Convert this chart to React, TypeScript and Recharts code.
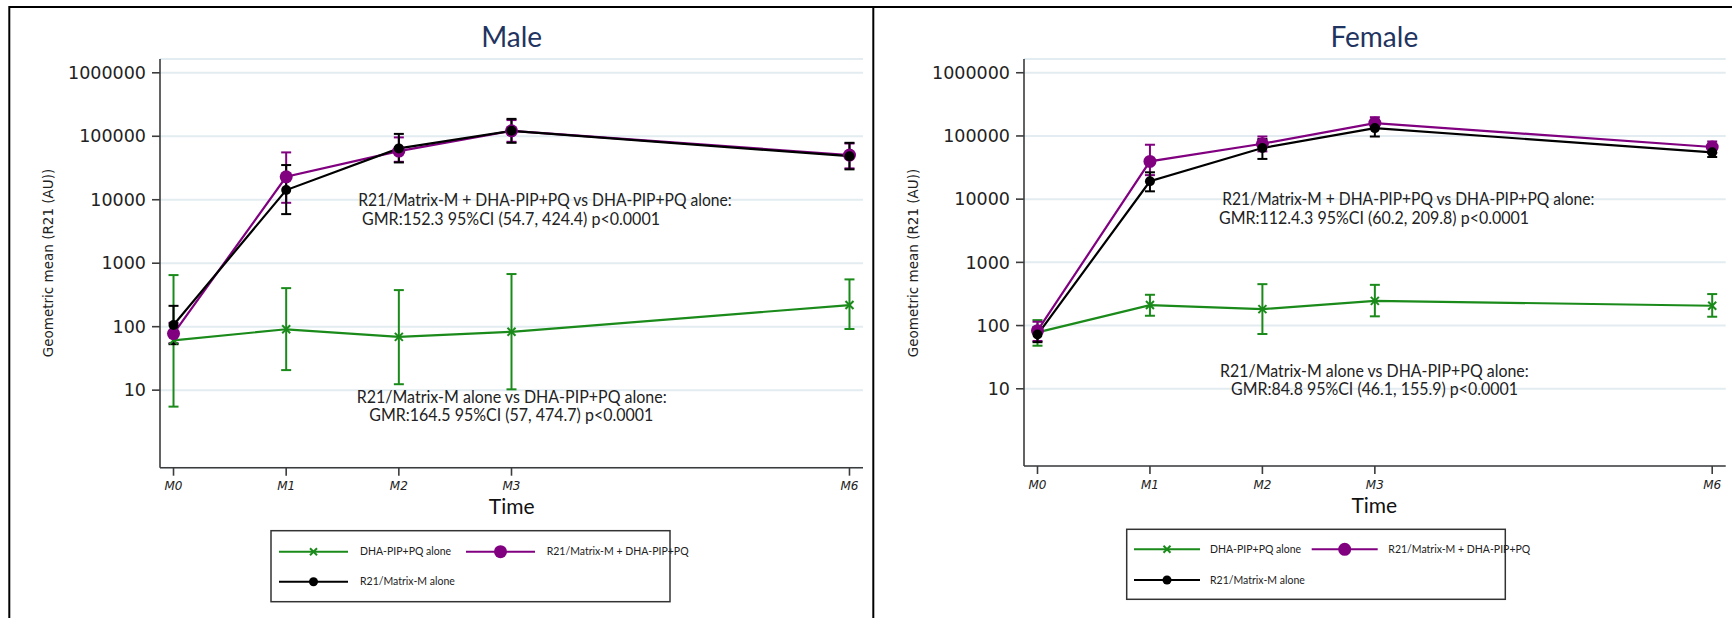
import React from "react";
import { CartesianGrid, ErrorBar, Line, LineChart, XAxis, YAxis } from "recharts";

// time points (months) and their labels
const months = [0, 1, 2, 3, 6];
const monthLabels = ["M0", "M1", "M2", "M3", "M6"];
const yTicks = [10, 100, 1000, 10000, 100000, 1000000];

// Male: geometric means with 95% CI
const maleDha = [61, 91, 69, 83, 219];
const maleDhaLow = [5.5, 20.7, 12.4, 10.3, 92];
const maleDhaHigh = [650, 405, 377, 675, 556];
const maleCombo = [78, 23000, 58400, 122000, 50500];
const maleComboLow = [55, 8950, 39600, 81800, 31200];
const maleComboHigh = [115, 55700, 96000, 180000, 77000];
const maleR21 = [106, 14200, 64400, 122000, 48500];
const maleR21Low = [53, 5940, 38700, 78900, 30100];
const maleR21High = [213, 35200, 109000, 188000, 78900];

// Female
const femaleDha = [78, 211, 182, 246, 206];
const femaleDhaLow = [48, 143, 73.6, 140, 138];
const femaleDhaHigh = [122, 307, 452, 441, 315];
const femaleCombo = [83, 39600, 75300, 160000, 66800];
const femaleComboLow = [57, 24000, 57000, 133000, 53700];
const femaleComboHigh = [115, 72600, 98000, 198000, 81800];
const femaleR21 = [72, 19200, 64400, 133000, 55000];
const femaleR21Low = [54.6, 13300, 43300, 98000, 46400];
const femaleR21High = [94, 26600, 89300, 180000, 70000];

const legendNames = ["DHA-PIP+PQ alone", "R21/Matrix-M + DHA-PIP+PQ", "R21/Matrix-M alone"];

const GREEN = "#1a8a1a";
const PURPLE = "#800080";
const BLACK = "#000000";
const AXIS = "#3c3c3c";
const GRID = "#e3ecf0";
const TEXT_FONT = "Lato, 'Open Sans', sans-serif";
const TICK_FONT = "'DejaVu Sans', Verdana, sans-serif";

type Row = {
  t: number;
  dha: number;
  dhaErr: [number, number];
  combo: number;
  comboErr: [number, number];
  r21: number;
  r21Err: [number, number];
};

function buildRows(
  dha: number[], dhaLo: number[], dhaHi: number[],
  combo: number[], comboLo: number[], comboHi: number[],
  r21: number[], r21Lo: number[], r21Hi: number[]
): Row[] {
  return months.map((t, i) => ({
    t,
    dha: dha[i],
    dhaErr: [dha[i] - dhaLo[i], dhaHi[i] - dha[i]],
    combo: combo[i],
    comboErr: [combo[i] - comboLo[i], comboHi[i] - combo[i]],
    r21: r21[i],
    r21Err: [r21[i] - r21Lo[i], r21Hi[i] - r21[i]],
  }));
}

const maleRows = buildRows(maleDha, maleDhaLow, maleDhaHigh, maleCombo, maleComboLow, maleComboHigh, maleR21, maleR21Low, maleR21High);
const femaleRows = buildRows(femaleDha, femaleDhaLow, femaleDhaHigh, femaleCombo, femaleComboLow, femaleComboHigh, femaleR21, femaleR21Low, femaleR21High);

const CrossDot = (props: any) => {
  const { cx, cy, index } = props;
  if (cx == null || cy == null) return <g key={`x${index}`} />;
  const s = 4;
  return (
    <g key={`x${index}`} stroke={GREEN} strokeWidth={2}>
      <line x1={cx - s} y1={cy - s} x2={cx + s} y2={cy + s} />
      <line x1={cx - s} y1={cy + s} x2={cx + s} y2={cy - s} />
    </g>
  );
};

const PurpleDot = (props: any) => {
  const { cx, cy, index } = props;
  if (cx == null || cy == null) return <g key={`p${index}`} />;
  return <circle key={`p${index}`} cx={cx} cy={cy} r={6.5} fill={PURPLE} />;
};

const BlackDot = (props: any) => {
  const { cx, cy, index } = props;
  if (cx == null || cy == null) return <g key={`b${index}`} />;
  return <circle key={`b${index}`} cx={cx} cy={cy} r={5} fill={BLACK} />;
};

type PanelProps = {
  rows: Row[];
  left: number;
  width: number;
  yAxisWidth: number;
  rightMargin: number;
  xAxisHeight: number;
};

function Panel({ rows, left, width, yAxisWidth, rightMargin, xAxisHeight }: PanelProps) {
  return (
    <div style={{ position: "absolute", left, top: 0 }}>
      <LineChart
        width={width}
        height={618}
        data={rows}
        margin={{ top: 59, right: rightMargin, bottom: 0, left: 0 }}
      >
        <CartesianGrid vertical={false} stroke={GRID} strokeWidth={2} />
        <XAxis
          type="number"
          dataKey="t"
          domain={[-0.12, 6.12]}
          ticks={months}
          tickFormatter={(v: number) => monthLabels[months.indexOf(v)]}
          height={xAxisHeight}
          stroke={AXIS}
          strokeWidth={1.6}
          tickSize={8}
          tickMargin={6}
          tick={{ fill: "#222", fontSize: 12, fontStyle: "italic", fontFamily: TICK_FONT }}
          allowDataOverflow
        />
        <YAxis
          scale="log"
          domain={[0.6, 1650000]}
          ticks={yTicks}
          tickFormatter={(v: number) => String(v)}
          width={yAxisWidth}
          stroke={AXIS}
          strokeWidth={1.6}
          tickSize={8}
          tickMargin={6}
          tick={{ fill: "#222", fontSize: 17.5, fontFamily: TICK_FONT }}
          allowDataOverflow
        />
        <Line
          dataKey="dha"
          stroke={GREEN}
          strokeWidth={2.2}
          dot={CrossDot}
          isAnimationActive={false}
        >
          <ErrorBar dataKey="dhaErr" width={5} stroke={GREEN} strokeWidth={2} direction="y" />
        </Line>
        <Line
          dataKey="combo"
          stroke={PURPLE}
          strokeWidth={2.2}
          dot={PurpleDot}
          isAnimationActive={false}
        >
          <ErrorBar dataKey="comboErr" width={5} stroke={PURPLE} strokeWidth={2} direction="y" />
        </Line>
        <Line
          dataKey="r21"
          stroke={BLACK}
          strokeWidth={2.2}
          dot={BlackDot}
          isAnimationActive={false}
        >
          <ErrorBar dataKey="r21Err" width={5} stroke={BLACK} strokeWidth={2} direction="y" />
        </Line>
      </LineChart>
    </div>
  );
}

type LegendSpec = {
  x: number; y: number; w: number; h: number;
  row1: number; row2: number;
  lineA: number; textA: number; lineB: number; textB: number; lineLen: number;
};

function LegendBox({ x, y, w, h, row1, row2, lineA, textA, lineB, textB, lineLen }: LegendSpec) {
  const ts = { fontFamily: TEXT_FONT, fontSize: 10.5, fill: "#222" } as const;
  return (
    <g>
      <rect x={x} y={y} width={w} height={h} fill="#fff" stroke="#333" strokeWidth={1.5} />
      <line x1={lineA} y1={row1} x2={lineA + lineLen} y2={row1} stroke={GREEN} strokeWidth={2} />
      <g stroke={GREEN} strokeWidth={2}>
        <line x1={lineA + lineLen / 2 - 3.5} y1={row1 - 3.5} x2={lineA + lineLen / 2 + 3.5} y2={row1 + 3.5} />
        <line x1={lineA + lineLen / 2 - 3.5} y1={row1 + 3.5} x2={lineA + lineLen / 2 + 3.5} y2={row1 - 3.5} />
      </g>
      <text x={textA} y={row1 + 3.5} {...ts}>{legendNames[0]}</text>
      <line x1={lineB} y1={row1} x2={lineB + lineLen} y2={row1} stroke={PURPLE} strokeWidth={2} />
      <circle cx={lineB + lineLen / 2} cy={row1} r={6.5} fill={PURPLE} />
      <text x={textB} y={row1 + 3.5} {...ts}>{legendNames[1]}</text>
      <line x1={lineA} y1={row2} x2={lineA + lineLen} y2={row2} stroke={BLACK} strokeWidth={2} />
      <circle cx={lineA + lineLen / 2} cy={row2} r={4.5} fill={BLACK} />
      <text x={textA} y={row2 + 3.5} {...ts}>{legendNames[2]}</text>
    </g>
  );
}

// annotation line: start x, baseline y, fitted width
function Note({ x, y, w, children }: { x: number; y: number; w: number; children: string }) {
  return (
    <text x={x} y={y} textLength={w} lengthAdjust="spacingAndGlyphs"
      fontFamily={TEXT_FONT} fontSize={16.5} fill="#222">
      {children}
    </text>
  );
}

export default function App() {
  const ylab = { fontFamily: TICK_FONT, fontSize: 13.5, fill: "#222" } as const;
  const title = { fontFamily: TEXT_FONT, fontSize: 28, fill: "#1f3460" } as const;
  const time = { fontFamily: TEXT_FONT, fontSize: 21, fill: "#111" } as const;
  return (
    <div style={{ position: "absolute", left: 0, top: 0, width: 1732, height: 618, background: "#fff", overflow: "hidden" }}>
      <Panel rows={maleRows} left={0} width={873} yAxisWidth={160} rightMargin={10} xAxisHeight={150.3} />
      <Panel rows={femaleRows} left={873} width={859} yAxisWidth={151} rightMargin={6.3} xAxisHeight={152} />
      <svg width={1732} height={618} style={{ position: "absolute", left: 0, top: 0, pointerEvents: "none" }}>
        {/* frame */}
        <line x1={9} y1={7} x2={1732} y2={7} stroke="#000" strokeWidth={2} />
        <line x1={9.3} y1={6} x2={9.3} y2={618} stroke="#000" strokeWidth={2} />
        <line x1={873.3} y1={6} x2={873.3} y2={618} stroke="#000" strokeWidth={2} />

        {/* Male panel text */}
        <text x={511.7} y={46.7} textAnchor="middle" {...title}>Male</text>
        <text transform="translate(53 263) rotate(-90)" textAnchor="middle" {...ylab}>Geometric mean (R21 (AU))</text>
        <Note x={358.3} y={205.5} w={373.4}>R21/Matrix-M + DHA-PIP+PQ vs DHA-PIP+PQ alone:</Note>
        <Note x={362} y={225} w={298}>GMR:152.3 95%CI (54.7, 424.4) p&lt;0.0001</Note>
        <Note x={356.7} y={402.7} w={310}>R21/Matrix-M alone vs DHA-PIP+PQ alone:</Note>
        <Note x={369.3} y={421} w={284}>GMR:164.5 95%CI (57, 474.7) p&lt;0.0001</Note>
        <text x={511.7} y={514} textAnchor="middle" {...time}>Time</text>
        <LegendBox x={271} y={530.7} w={399} h={71} row1={551.7} row2={581.7}
          lineA={279} textA={360} lineB={466} textB={546.7} lineLen={69} />

        {/* Female panel text */}
        <text x={1374.3} y={46.7} textAnchor="middle" {...title}>Female</text>
        <text transform="translate(918 263) rotate(-90)" textAnchor="middle" {...ylab}>Geometric mean (R21 (AU))</text>
        <Note x={1222.3} y={205} w={372}>R21/Matrix-M + DHA-PIP+PQ vs DHA-PIP+PQ alone:</Note>
        <Note x={1219} y={224.3} w={310}>GMR:112.4.3 95%CI (60.2, 209.8) p&lt;0.0001</Note>
        <Note x={1220} y={377} w={308.7}>R21/Matrix-M alone vs DHA-PIP+PQ alone:</Note>
        <Note x={1231} y={395} w={287}>GMR:84.8 95%CI (46.1, 155.9) p&lt;0.0001</Note>
        <text x={1374.3} y={513} textAnchor="middle" {...time}>Time</text>
        <LegendBox x={1126.7} y={529.3} w={378.6} h={70} row1={549.3} row2={580}
          lineA={1134} textA={1210} lineB={1311.7} textB={1388.3} lineLen={66} />
      </svg>
    </div>
  );
}
